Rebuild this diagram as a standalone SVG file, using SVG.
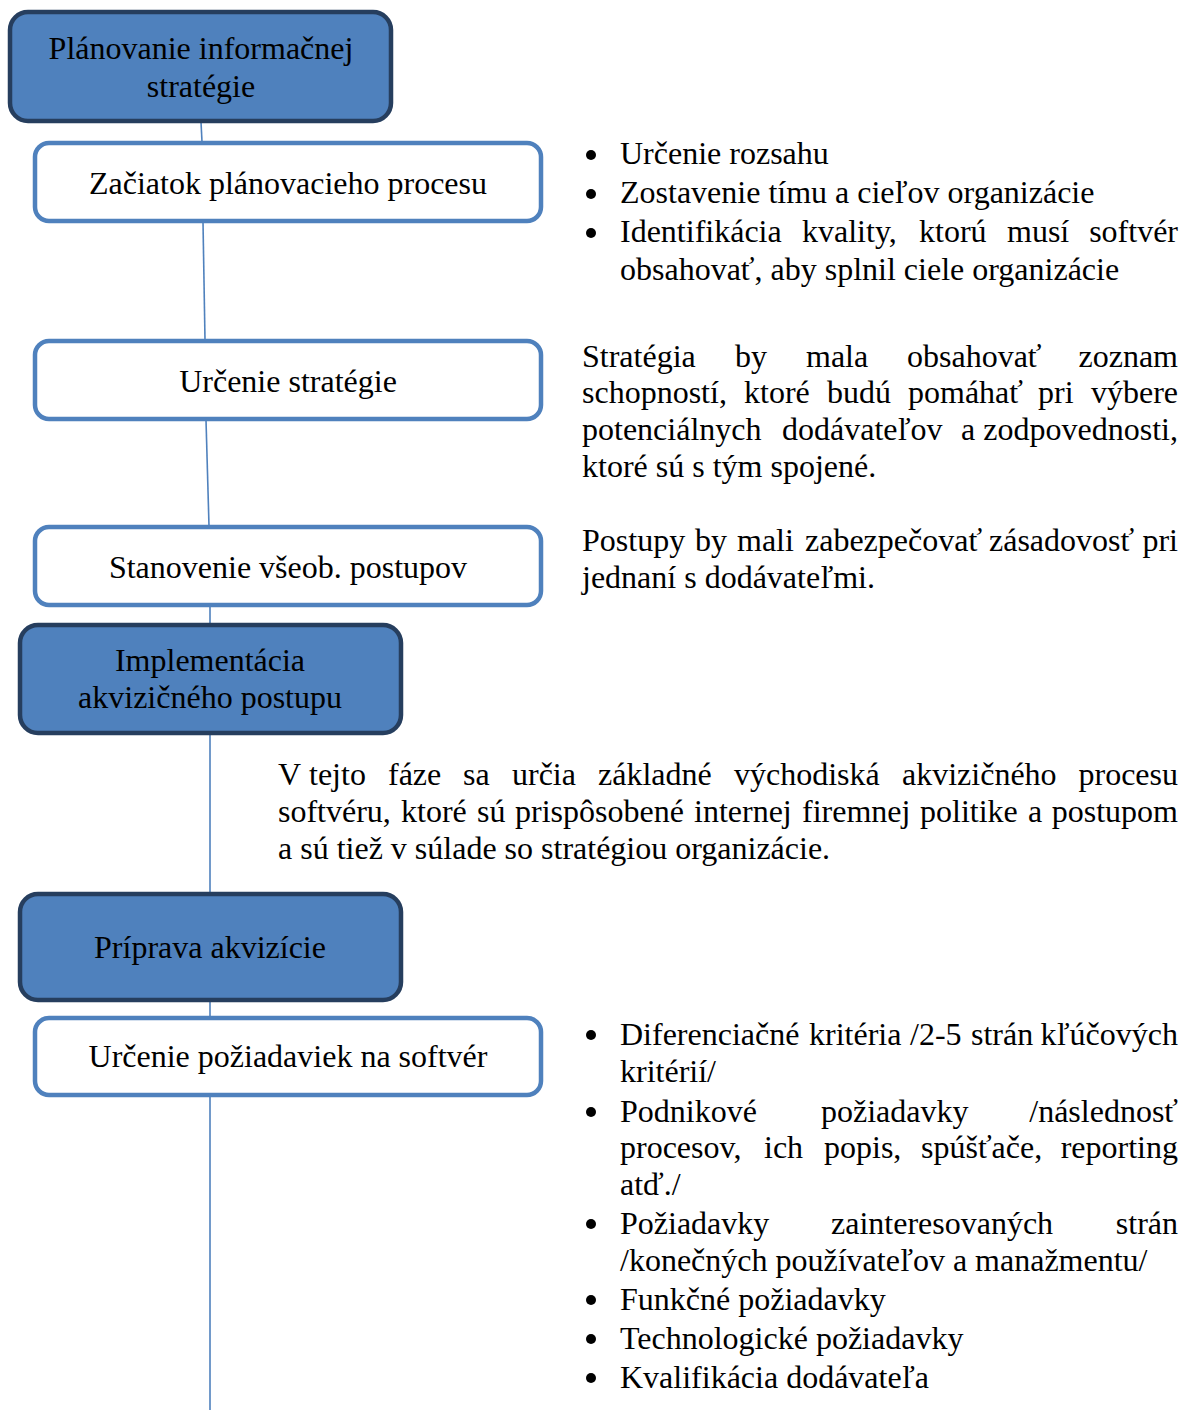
<svg xmlns="http://www.w3.org/2000/svg" width="1189" height="1410" viewBox="0 0 1189 1410">
  <style>
    text { font-family: "Liberation Serif", "Times New Roman", serif; font-size: 32px; fill: #000; }
    .phase { fill: #4F81BD; stroke: #263E5E; stroke-width: 4.5; }
    .step { fill: #FFFFFF; stroke: #4F81BD; stroke-width: 4.5; }
    .link { stroke: #4F81BD; stroke-width: 1.6; fill: none; }
    .mid { text-anchor: middle; }
  </style>
  <defs>
    <circle id="dot" r="5" fill="#000"/>
  </defs>

  <!-- connectors -->
  <g id="connectors">
    <line class="link" x1="201" y1="122" x2="202" y2="142"/>
    <line class="link" x1="203" y1="222" x2="205" y2="340"/>
    <line class="link" x1="206" y1="420" x2="209" y2="526"/>
    <line class="link" x1="210" y1="606" x2="210" y2="624"/>
    <line class="link" x1="210" y1="734" x2="210" y2="893"/>
    <line class="link" x1="210" y1="1001" x2="210" y2="1017"/>
    <line class="link" x1="210" y1="1096" x2="210" y2="1410"/>
  </g>

  <!-- phases and steps -->
  <g id="phase-planning">
    <rect class="phase" x="10" y="12" width="381" height="109" rx="18"/>
    <text class="mid" x="201" y="59">Plánovanie informačnej</text>
    <text class="mid" x="201" y="97">stratégie</text>
  </g>
  <g id="step-start">
    <rect class="step" x="35" y="143" width="506" height="78" rx="14"/>
    <text class="mid" x="288" y="194">Začiatok plánovacieho procesu</text>
  </g>
  <g id="step-strategy">
    <rect class="step" x="35" y="341" width="506" height="78" rx="14"/>
    <text class="mid" x="288" y="392">Určenie stratégie</text>
  </g>
  <g id="step-procedures">
    <rect class="step" x="35" y="527" width="506" height="78" rx="14"/>
    <text class="mid" x="288" y="578">Stanovenie všeob. postupov</text>
  </g>
  <g id="phase-implementation">
    <rect class="phase" x="20" y="625" width="381" height="108" rx="18"/>
    <text class="mid" x="210" y="671">Implementácia</text>
    <text class="mid" x="210" y="708">akvizičného postupu</text>
  </g>
  <g id="phase-preparation">
    <rect class="phase" x="20" y="894" width="381" height="106" rx="18"/>
    <text class="mid" x="210" y="958">Príprava akvizície</text>
  </g>
  <g id="step-requirements">
    <rect class="step" x="35" y="1018" width="506" height="77" rx="14"/>
    <text class="mid" x="288" y="1067">Určenie požiadaviek na softvér</text>
  </g>

  <!-- notes: planning start -->
  <g id="note-start">
    <use href="#dot" x="591" y="155"/>
    <use href="#dot" x="591" y="194"/>
    <use href="#dot" x="591" y="233"/>
    <text x="620" y="164">Určenie rozsahu</text>
    <text x="620" y="203">Zostavenie tímu a cieľov organizácie</text>
    <text y="242"><tspan x="620">Identifikácia</tspan><tspan x="802">kvality,</tspan><tspan x="919">ktorú</tspan><tspan x="1007">musí</tspan><tspan x="1178" text-anchor="end">softvér</tspan></text>
    <text x="620" y="280">obsahovať, aby splnil ciele organizácie</text>
  </g>

  <!-- notes: strategy -->
  <g id="note-strategy">
    <text y="367"><tspan x="582">Stratégia</tspan><tspan x="735">by</tspan><tspan x="806">mala</tspan><tspan x="907">obsahovať</tspan><tspan x="1178" text-anchor="end">zoznam</tspan></text>
    <text y="403"><tspan x="582">schopností,</tspan><tspan x="744">ktoré</tspan><tspan x="827">budú</tspan><tspan x="908">pomáhať</tspan><tspan x="1038">pri</tspan><tspan x="1178" text-anchor="end">výbere</tspan></text>
    <text y="440"><tspan x="582">potenciálnych</tspan><tspan x="782">dodávateľov</tspan><tspan x="961">a</tspan><tspan x="1178" text-anchor="end">zodpovednosti,</tspan></text>
    <text x="582" y="477">ktoré sú s tým spojené.</text>
  </g>

  <!-- notes: procedures -->
  <g id="note-procedures">
    <text y="551"><tspan x="582">Postupy</tspan><tspan x="695">by</tspan><tspan x="737">mali</tspan><tspan x="805">zabezpečovať</tspan><tspan x="989">zásadovosť</tspan><tspan x="1178" text-anchor="end">pri</tspan></text>
    <text x="582" y="588">jednaní s dodávateľmi.</text>
  </g>

  <!-- notes: implementation -->
  <g id="note-implementation">
    <text y="785"><tspan x="278">V</tspan><tspan x="309">tejto</tspan><tspan x="388">fáze</tspan><tspan x="463">sa</tspan><tspan x="512">určia</tspan><tspan x="598">základné</tspan><tspan x="734">východiská</tspan><tspan x="902">akvizičného</tspan><tspan x="1178" text-anchor="end">procesu</tspan></text>
    <text y="822"><tspan x="278">softvéru,</tspan><tspan x="401">ktoré</tspan><tspan x="477">sú</tspan><tspan x="515">prispôsobené</tspan><tspan x="694">internej</tspan><tspan x="802">firemnej</tspan><tspan x="920">politike</tspan><tspan x="1028">a</tspan><tspan x="1178" text-anchor="end">postupom</tspan></text>
    <text x="278" y="859">a sú tiež v súlade so stratégiou organizácie.</text>
  </g>

  <!-- notes: requirements -->
  <g id="note-requirements">
    <use href="#dot" x="591" y="1035"/>
    <use href="#dot" x="591" y="1112"/>
    <use href="#dot" x="591" y="1224"/>
    <use href="#dot" x="591" y="1300"/>
    <use href="#dot" x="591" y="1339"/>
    <use href="#dot" x="591" y="1378"/>
    <text y="1045"><tspan x="620">Diferenciačné</tspan><tspan x="809">kritéria</tspan><tspan x="910">/2-5</tspan><tspan x="971">strán</tspan><tspan x="1178" text-anchor="end">kľúčových</tspan></text>
    <text x="620" y="1082">kritérií/</text>
    <text y="1122"><tspan x="620">Podnikové</tspan><tspan x="821">požiadavky</tspan><tspan x="1178" text-anchor="end">/následnosť</tspan></text>
    <text y="1158"><tspan x="620">procesov,</tspan><tspan x="764">ich</tspan><tspan x="824">popis,</tspan><tspan x="921">spúšťače,</tspan><tspan x="1178" text-anchor="end">reporting</tspan></text>
    <text x="620" y="1195">atď./</text>
    <text y="1234"><tspan x="620">Požiadavky</tspan><tspan x="831">zainteresovaných</tspan><tspan x="1178" text-anchor="end">strán</tspan></text>
    <text x="620" y="1271">/konečných používateľov a manažmentu/</text>
    <text x="620" y="1310">Funkčné požiadavky</text>
    <text x="620" y="1349">Technologické požiadavky</text>
    <text x="620" y="1388">Kvalifikácia dodávateľa</text>
  </g>
</svg>
